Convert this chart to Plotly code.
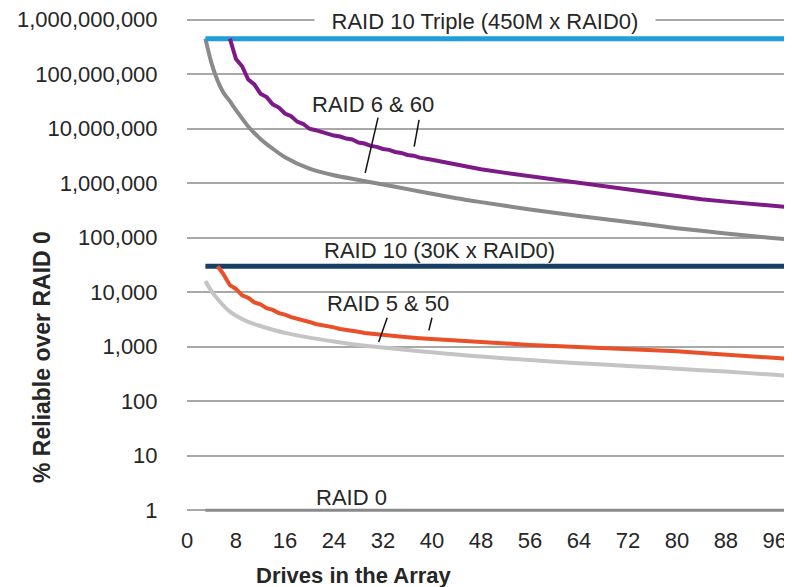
import plotly.graph_objects as go

# ---------------- data ----------------
x_ticks = [0, 8, 16, 24, 32, 40, 48, 56, 64, 72, 80, 88, 96]
y_tickvals = [1, 10, 100, 1000, 10000, 100000, 1000000, 10000000, 100000000, 1000000000]
y_ticktext = ["1", "10", "100", "1,000", "10,000", "100,000", "1,000,000",
              "10,000,000", "100,000,000", "1,000,000,000"]

flat_drives = [3, 100]
raid10_triple = [4.5e8, 4.5e8]
raid10 = [3.0e4, 3.0e4]
raid0 = [1, 1]

raid6_drives = [3, 4, 5, 6, 7, 8, 10, 12, 14, 16, 20, 24, 28, 32, 36, 40, 44, 48,
                56, 64, 72, 80, 88, 96, 100]
raid6_vals = [4.5e8, 1.6e8, 7.6e7, 4.5e7, 3.2e7, 2.2e7, 1.1e7, 6.5e6, 4.3e6, 3.0e6,
              1.85e6, 1.4e6, 1.15e6, 9.5e5, 7.8e5, 6.4e5, 5.3e5, 4.5e5,
              3.3e5, 2.5e5, 1.95e5, 1.5e5, 1.2e5, 9.8e4, 9.0e4]

raid60_drives = [7, 8, 9, 10, 11, 12, 13, 14, 15, 16, 17, 18, 19, 20, 21, 22, 23, 24,
                 25, 26, 27, 28, 29, 30, 31, 32, 33, 34, 35, 36, 37, 38, 40, 42, 44,
                 46, 48, 52, 56, 60, 64, 68, 72, 76, 80, 84, 88, 92, 96, 100]
raid60_vals = [4.5e8, 1.9e8, 1.4e8, 8.0e7, 6.5e7, 4.4e7, 3.8e7, 2.8e7, 2.45e7, 1.9e7,
               1.7e7, 1.35e7, 1.22e7, 1.0e7, 9.4e6, 8.6e6, 8.2e6, 7.5e6,
               7.2e6, 6.6e6, 6.35e6, 5.6e6, 5.35e6, 4.85e6, 4.65e6, 4.25e6, 4.1e6,
               3.75e6, 3.6e6, 3.3e6, 3.2e6, 2.95e6, 2.7e6, 2.45e6, 2.2e6,
               2.0e6, 1.8e6, 1.55e6, 1.35e6, 1.18e6, 1.02e6, 8.9e5, 7.8e5, 6.6e5,
               5.7e5, 5.1e5, 4.6e5, 4.2e5, 3.85e5, 3.5e5]

raid5_drives = [3, 4, 5, 6, 7, 8, 10, 12, 14, 16, 20, 24, 28, 32, 36, 40, 44, 48,
                56, 64, 72, 80, 88, 96, 100]
raid5_vals = [1.6e4, 1.05e4, 7.5e3, 5.6e3, 4.4e3, 3.7e3, 2.85e3, 2.4e3, 2.05e3, 1.8e3,
              1.47e3, 1.25e3, 1.08e3, 970, 870, 790, 720, 660,
              570, 500, 445, 395, 350, 305, 285]

raid50_drives = [5, 6, 7, 8, 9, 10, 11, 12, 13, 14, 15, 16, 17, 18, 19, 20, 21, 22,
                 23, 24, 25, 26, 27, 28, 29, 30, 31, 32, 34, 36, 38, 40, 44, 48, 52,
                 56, 60, 64, 68, 72, 76, 80, 84, 88, 92, 96, 100]
raid50_vals = [3.0e4, 2.1e4, 1.35e4, 1.15e4, 8.8e3, 7.9e3, 6.5e3, 6.0e3, 5.1e3, 4.75e3,
               4.15e3, 3.9e3, 3.5e3, 3.3e3, 3.0e3, 2.85e3, 2.62e3, 2.52e3,
               2.35e3, 2.27e3, 2.12e3, 2.06e3, 1.94e3, 1.89e3, 1.79e3, 1.74e3, 1.66e3,
               1.62e3, 1.55e3, 1.49e3, 1.43e3, 1.38e3, 1.3e3, 1.23e3, 1.15e3,
               1.08e3, 1.03e3, 990, 950, 910, 875, 825, 770, 715, 670, 625, 580]

# ---------------- figure ----------------
FONT = "Liberation Sans, Arial, sans-serif"
TXT = "#262626"

fig = go.Figure()

def add_line(xs, ys, color, width, shape="linear"):
    fig.add_trace(go.Scatter(x=xs, y=ys, mode="lines",
                             line=dict(color=color, width=width, shape=shape,
                                       smoothing=0.8),
                             hoverinfo="skip", showlegend=False))

add_line(flat_drives, raid0, "#8a8a8a", 3)
add_line(raid5_drives, raid5_vals, "#c4c4c4", 4, "spline")
add_line(flat_drives, raid10, "#163f63", 5)
add_line(raid50_drives, raid50_vals, "#e8502a", 4)
add_line(raid6_drives, raid6_vals, "#8a8a8a", 4, "spline")
add_line(flat_drives, raid10_triple, "#1e9fdb", 5)
add_line(raid60_drives, raid60_vals, "#7d1a87", 4)

annotations = [
    dict(x=48.6, y=8.975, text="RAID 10 Triple (450M x RAID0)", width=340,
         bgcolor="white", borderpad=0),
    dict(x=30.4, y=7.44, text="RAID 6 &amp; 60"),
    dict(x=41.3, y=4.775, text="RAID 10 (30K x RAID0)"),
    dict(x=32.8, y=3.80, text="RAID 5 &amp; 50"),
    dict(x=26.9, y=0.24, text="RAID 0"),
]
for a in annotations:
    a.update(xref="x", yref="y", showarrow=False, xanchor="center", yanchor="middle",
             font=dict(family=FONT, size=22, color=TXT))
    fig.add_annotation(**a)

# axis titles
fig.add_annotation(xref="paper", yref="paper", x=(42 - 187) / 605, y=(513 - 357) / 496,
                   textangle=-90, xanchor="center", yanchor="middle",
                   text="<b>% Reliable over RAID 0</b>", showarrow=False,
                   font=dict(family=FONT, size=23, color=TXT))
fig.add_annotation(xref="paper", yref="paper", x=(354 - 187) / 605, y=-(575 - 513) / 496,
                   xanchor="center", yanchor="middle",
                   text="<b>Drives in the Array</b>", showarrow=False,
                   font=dict(family=FONT, size=22, color=TXT))

# leader lines (drives, value)
leaders = [
    (31.2, 1.6e7, 29.1, 1.55e6),
    (37.9, 1.45e7, 37.1, 4.7e6),
    (32.7, 3.4e3, 31.3, 1.22e3),
    (40.0, 3.4e3, 39.5, 2.0e3),
]
for x0, y0, x1, y1 in leaders:
    fig.add_shape(type="line", xref="x", yref="y", x0=x0, y0=y0, x1=x1, y1=y1,
                  line=dict(color="#111111", width=1.5))

# page has an 8px body margin, so the figure is 8px smaller and shifted
fig.update_layout(
    width=784, height=579,
    margin=dict(l=179, r=0, t=9, b=74),
    paper_bgcolor="white", plot_bgcolor="white",
    font=dict(family=FONT, size=22, color=TXT),
    showlegend=False,
)
fig.update_xaxes(range=[0, 98.8], tickvals=x_ticks, showgrid=False, zeroline=False,
                 showline=False, ticks="outside", ticklen=8, tickcolor="rgba(0,0,0,0)",
                 ticklabeloverflow="allow",
                 tickfont=dict(family=FONT, size=22, color=TXT))
fig.update_yaxes(type="log", range=[-0.05, 9.05], tickvals=y_tickvals, ticktext=y_ticktext,
                 showgrid=True, gridcolor="#a8a8a8", gridwidth=2, zeroline=False,
                 showline=False, ticks="outside", ticklen=24, tickcolor="rgba(0,0,0,0)",
                 ticklabeloverflow="allow",
                 tickfont=dict(family=FONT, size=22, color=TXT))

fig.write_html("out.html")
